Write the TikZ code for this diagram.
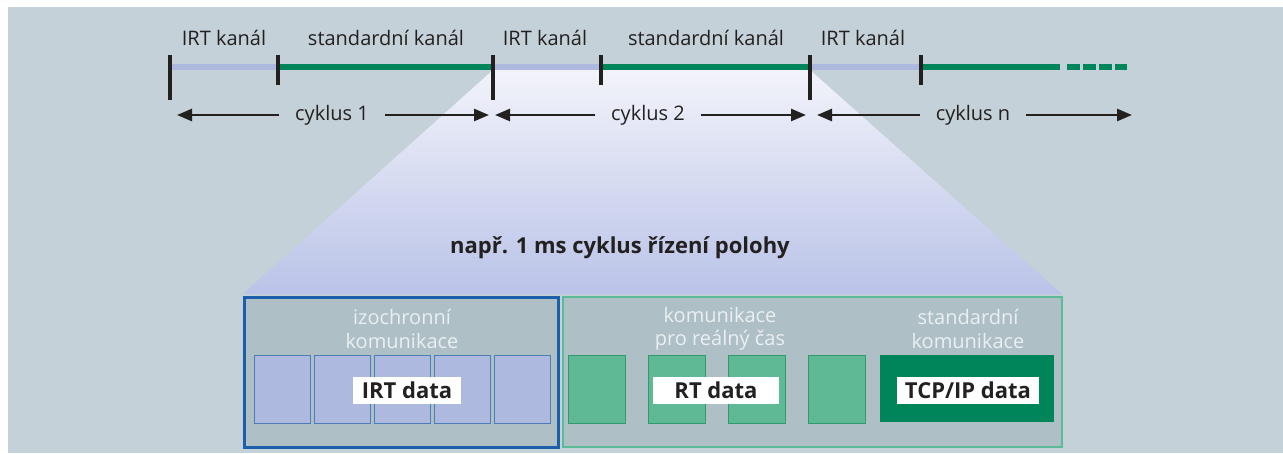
\documentclass[tikz,border=0pt]{standalone}
\usepackage{fontspec}
\setmainfont{Open Sans}
\usetikzlibrary{arrows.meta}
\definecolor{bgc}{HTML}{C4D1D8}
\definecolor{innerc}{HTML}{AFBFC6}
\definecolor{lav}{HTML}{AEB9E0}
\definecolor{lavdark}{HTML}{4A7FB8}
\definecolor{gline}{HTML}{00845A}
\definecolor{lgreen}{HTML}{5FB995}
\definecolor{lgreenb}{HTML}{2E9A6E}
\definecolor{bluebord}{HTML}{1B5FAA}
\definecolor{greenbord}{HTML}{5CBB97}
\definecolor{txt}{HTML}{232020}
\definecolor{wtxt}{HTML}{EAF0F2}
\definecolor{trtop}{HTML}{F2F3FA}
\definecolor{trbot}{HTML}{BAC3E8}
\tikzset{
  lbl/.style={text=txt,font=\fontsize{20}{23}\selectfont,inner sep=0pt},
  wlbl/.style={text=wtxt,font=\fontsize{20}{23.5}\selectfont,align=center,inner sep=0pt},
  tickmark/.style={draw=txt,line width=3.5pt},
  lavseg/.style={draw=lav,line width=6pt},
  grseg/.style={draw=gline,line width=6pt},
  cyc/.style={draw=txt,line width=2.5pt,-{Triangle[length=15pt,width=12pt]}},
  irtblk/.style={draw=lavdark,fill=lav,line width=1pt},
  rtblk/.style={draw=lgreenb,fill=lgreen,line width=1pt},
  dlbl/.style={fill=white,text=txt,font=\bfseries\fontsize{22}{25}\selectfont,inner sep=0pt},
}
\begin{document}
\begin{tikzpicture}[x=1pt,y=-1pt]
\useasboundingbox (0,0) rectangle (1283,453);
\fill[bgc] (8,7) rectangle (1283,453);
% trapezoid
\shade[top color=trtop,bottom color=trbot] (493,70) -- (810,70) -- (1062,294) -- (243,294) -- cycle;
% top line coordinates
\coordinate (p0) at (170,67);
\coordinate (p1) at (278,67);
\coordinate (p2) at (493,67);
\coordinate (p3) at (601,67);
\coordinate (p4) at (810,67);
\coordinate (p5) at (921,67);
\coordinate (p6) at (1060,67);
\draw[lavseg] (p0) -- (p1);
\draw[grseg] (p1) -- (p2);
\draw[lavseg] (p2) -- (p3);
\draw[grseg] (p3) -- (p4);
\draw[lavseg] (p4) -- (p5);
\draw[grseg] (p5) -- (p6);
\coordinate (d0a) at (1067,67); \coordinate (d0b) at (1080,67);
\coordinate (d1a) at (1083,67); \coordinate (d1b) at (1096,67);
\coordinate (d2a) at (1099,67); \coordinate (d2b) at (1112,67);
\coordinate (d3a) at (1115,67); \coordinate (d3b) at (1127,67);
\draw[grseg] (d0a) -- (d0b);
\draw[grseg] (d1a) -- (d1b);
\draw[grseg] (d2a) -- (d2b);
\draw[grseg] (d3a) -- (d3b);
% ticks
\coordinate (t0a) at (170,55); \coordinate (t0b) at (170,100);
\coordinate (t1a) at (278,55); \coordinate (t1b) at (278,85);
\coordinate (t2a) at (493,55); \coordinate (t2b) at (493,100);
\coordinate (t3a) at (601,55); \coordinate (t3b) at (601,85);
\coordinate (t4a) at (810,55); \coordinate (t4b) at (810,100);
\coordinate (t5a) at (921,55); \coordinate (t5b) at (921,85);
\draw[tickmark] (t0a) -- (t0b);
\draw[tickmark] (t1a) -- (t1b);
\draw[tickmark] (t2a) -- (t2b);
\draw[tickmark] (t3a) -- (t3b);
\draw[tickmark] (t4a) -- (t4b);
\draw[tickmark] (t5a) -- (t5b);
% channel labels
\node[lbl] (k1) at (224,38) {IRT kanál};
\node[lbl] (k2) at (386,38) {standardní kanál};
\node[lbl] (k3) at (545,38) {IRT kanál};
\node[lbl] (k4) at (706,38) {standardní kanál};
\node[lbl] (k5) at (863,38) {IRT kanál};
% cycles
\node[lbl] (c1) at (332,115) {cyklus 1};
\node[lbl] (c2) at (648,115) {cyklus 2};
\node[lbl] (c3) at (973,115) {cyklus n};
\coordinate (c1l) at (177,115); \coordinate (c1r) at (489,115);
\coordinate (c2l) at (495,115); \coordinate (c2r) at (806,115);
\coordinate (c3l) at (817,115); \coordinate (c3r) at (1132,115);
\draw[cyc] (c1.west) ++(-16,0) -- (c1l);
\draw[cyc] (c1.east) ++(16,0) -- (c1r);
\draw[cyc] (c2.west) ++(-16,0) -- (c2l);
\draw[cyc] (c2.east) ++(16,0) -- (c2r);
\draw[cyc] (c3.west) ++(-16,0) -- (c3l);
\draw[cyc] (c3.east) ++(16,0) -- (c3r);
% title
\node[text=txt,font=\bfseries\fontsize{22}{25}\selectfont,inner sep=0pt] (title) at (620,248) {např. 1 ms cyklus řízení polohy};
% boxes
\draw[draw=bluebord,fill=innerc,line width=3pt] (244,297) rectangle (558,447);
\draw[draw=greenbord,fill=innerc,line width=2.2pt] (563,297) rectangle (1062,447);
\node[wlbl] (iz) at (402,329) {izochronní\\komunikace};
\node[wlbl] (kr) at (720,329) {komunikace\\pro reálný čas};
\node[wlbl] (sk) at (968,329) {standardní\\komunikace};
% IRT blocks
\draw[irtblk] (254,355) rectangle (310,423);
\draw[irtblk] (314,355) rectangle (370,423);
\draw[irtblk] (374,355) rectangle (430,423);
\draw[irtblk] (434,355) rectangle (490,423);
\draw[irtblk] (494,355) rectangle (550,423);
% RT blocks
\draw[rtblk] (568,355) rectangle (625,423);
\draw[rtblk] (648,355) rectangle (705,423);
\draw[rtblk] (728,355) rectangle (785,423);
\draw[rtblk] (808,355) rectangle (865,423);
\fill[gline] (880,355) rectangle (1054,422);
% data labels
\node[dlbl,minimum width=108pt,minimum height=27pt] (irtd) at (407,390.5) {IRT data};
\node[dlbl,minimum width=126pt,minimum height=27pt] (rtd) at (716,390.5) {RT data};
\node[dlbl,minimum width=142pt,minimum height=27pt] (tcpd) at (968,390.5) {TCP/IP data};
\end{tikzpicture}
\end{document}
